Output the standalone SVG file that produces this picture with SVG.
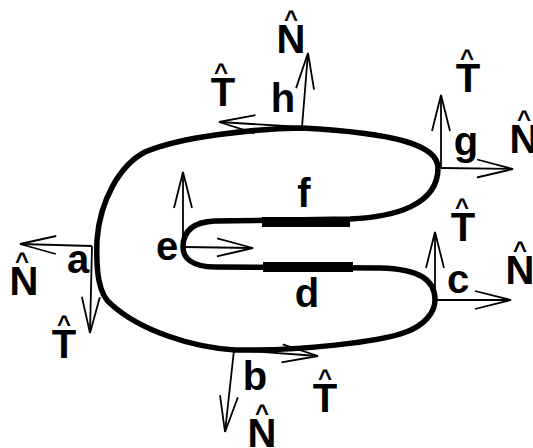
<svg xmlns="http://www.w3.org/2000/svg" width="533" height="448" viewBox="0 0 533 448">
<defs>
<marker id="ah" viewBox="-40 -12 42 24" markerWidth="42" markerHeight="24" refX="0" refY="0" markerUnits="userSpaceOnUse" orient="auto">
<path d="M-36,-9 L0,0 L-36,9" fill="none" stroke="#000" stroke-width="1.8"/>
</marker>
</defs>
<style>
.curve{fill:none;stroke:#000;stroke-width:5.5;stroke-linejoin:round}
.bar{stroke:#000;stroke-width:10;stroke-linecap:butt}
.vec{stroke:#000;stroke-width:1.8;fill:none;marker-end:url(#ah)}
.lbl{font-family:"Liberation Sans",Arial,sans-serif;font-weight:bold;font-size:40px;text-anchor:middle;fill:#000}
.hat{font-size:24px}
</style>
<rect width="533" height="448" fill="#fff"/>
<g id="loop">
<path class="curve" d="M302,128 C250,129 180,137 145,152 C120,165 100,200 97,240 C96,270 98,295 112,305 C140,330 190,347 235,350 C300,351 380,342 406,332 C425,325 435,312 435,300 C435,280 420,269 380,268 L215,267 C192,267 183,258 183,247 C183,232 192,222 215,221 L350,219 C395,217 438,205 438,168 C438,145 395,133 302,128 Z"/>
<line class="bar" x1="262" y1="222" x2="350" y2="222"/>
<line class="bar" x1="263" y1="267" x2="353" y2="267"/>
</g>
<g id="connectors">
<line class="vec" x1="302" y1="127" x2="308" y2="53"/>
<line class="vec" x1="302" y1="127" x2="219" y2="122"/>
<line class="vec" x1="441" y1="168" x2="441" y2="95"/>
<line class="vec" x1="441" y1="168" x2="513" y2="169"/>
<line class="vec" x1="435" y1="300" x2="435" y2="232"/>
<line class="vec" x1="435" y1="300" x2="511" y2="300"/>
<line class="vec" x1="92" y1="246" x2="20" y2="244"/>
<line class="vec" x1="92" y1="246" x2="90" y2="333"/>
<line class="vec" x1="234" y1="350" x2="225" y2="432"/>
<line class="vec" x1="234" y1="350" x2="318" y2="356"/>
<line class="vec" x1="183" y1="247" x2="183" y2="172"/>
<line class="vec" x1="183" y1="247" x2="253" y2="248"/>
</g>
<g id="node-h">
<text class="lbl" x="283" y="112">h</text>
<text class="lbl" x="291" y="53">N<tspan class="hat" x="291" y="27">^</tspan></text>
<text class="lbl" x="223" y="106">T<tspan class="hat" x="221" y="80">^</tspan></text>
</g>
<g id="node-g">
<text class="lbl" x="466" y="155">g</text>
<text class="lbl" x="468" y="92">T<tspan class="hat" x="467" y="66">^</tspan></text>
<text class="lbl" x="524" y="153">N<tspan class="hat" x="524" y="127">^</tspan></text>
</g>
<g id="node-c">
<text class="lbl" x="458" y="293">c</text>
<text class="lbl" x="463" y="241">T<tspan class="hat" x="462" y="215">^</tspan></text>
<text class="lbl" x="520" y="284">N<tspan class="hat" x="520" y="258">^</tspan></text>
</g>
<g id="node-a">
<text class="lbl" x="78" y="273">a</text>
<text class="lbl" x="24" y="295">N<tspan class="hat" x="22" y="269">^</tspan></text>
<text class="lbl" x="64" y="358">T<tspan class="hat" x="64" y="332">^</tspan></text>
</g>
<g id="node-b">
<text class="lbl" x="255" y="390">b</text>
<text class="lbl" x="262" y="447">N<tspan class="hat" x="262" y="421">^</tspan></text>
<text class="lbl" x="325" y="412">T<tspan class="hat" x="325" y="386">^</tspan></text>
</g>
<g id="node-e">
<text class="lbl" x="167" y="260">e</text>
</g>
<g id="node-f">
<text class="lbl" x="304" y="207">f</text>
</g>
<g id="node-d">
<text class="lbl" x="307" y="307">d</text>
</g>
</svg>
